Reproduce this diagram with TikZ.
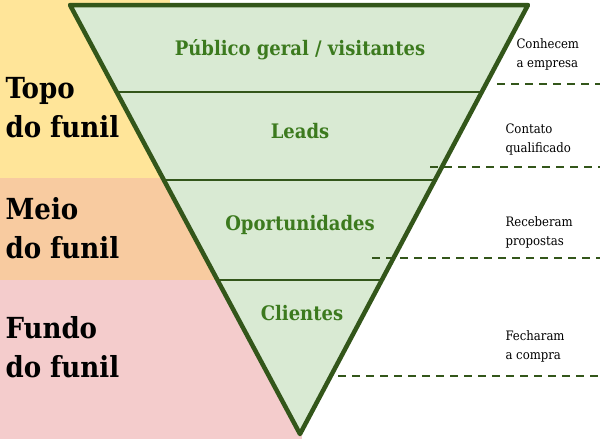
\documentclass[tikz,border=0pt]{standalone}
\usepackage{fontspec}
\setmainfont{DejaVu Serif Condensed}
\begin{document}
\begin{tikzpicture}[x=1pt,y=-1pt,
  stage/.style={font=\bfseries\fontsize{20}{24}\selectfont},
  side/.style={font=\bfseries\fontsize{29}{39}\selectfont,align=left,anchor=west,text=black},
  note/.style={font=\fontsize{13}{19}\selectfont,align=left,anchor=west,text=black},
  sep/.style={draw=fgreen,line width=2pt},
  dashln/.style={draw=fgreen,line width=1.5pt,dash pattern=on 8pt off 6pt}]
\definecolor{fgreen}{HTML}{33561A}
\definecolor{tgreen}{HTML}{3C7A1E}
\tikzset{stage/.append style={text=tgreen}}
\useasboundingbox (0,0) rectangle (602,439);
\fill[fill={rgb,255:red,255;green,229;blue,153}] (0,0) rectangle (170,178);
\fill[fill={rgb,255:red,248;green,203;blue,160}] (0,178) rectangle (240,280);
\fill[fill={rgb,255:red,244;green,204;blue,204}] (0,280) rectangle (302,439);
\coordinate (tl) at (70,5); \coordinate (tr) at (528,5); \coordinate (ap) at (300,434);
\fill[fill={rgb,255:red,217;green,234;blue,211}] (tl) -- (tr) -- (ap) -- cycle;
\draw[sep] (118,92) -- (482,92);
\draw[sep] (165,180) -- (435,180);
\draw[sep] (218,280) -- (382,280);
\draw[fgreen,line width=4.5pt,line join=round] (tl) -- (tr) -- (ap) -- cycle;
\node[stage] (s1) at (300,50) {Público geral / visitantes};
\node[stage] (s2) at (300,131) {Leads};
\node[stage] (s3) at (300,225) {Oportunidades};
\node[stage] (s4) at (302,313) {Clientes};
\node[side] (l1) at (2,108) {Topo\\do funil};
\node[side] (l2) at (2,228) {Meio\\do funil};
\node[side] (l3) at (2,347) {Fundo\\do funil};
\node[note] (n1) at (513,54) {Conhecem\\a empresa};
\node[note] (n2) at (502,140) {Contato\\qualificado};
\node[note] (n3) at (502,232) {Receberam\\propostas};
\node[note] (n4) at (502,346) {Fecharam\\a compra};
\draw[dashln] (497,84) -- (600,84);
\draw[dashln] (430,167) -- (600,167);
\draw[dashln] (372,258) -- (600,258);
\draw[dashln] (338,376) -- (600,376);
\end{tikzpicture}
\end{document}
